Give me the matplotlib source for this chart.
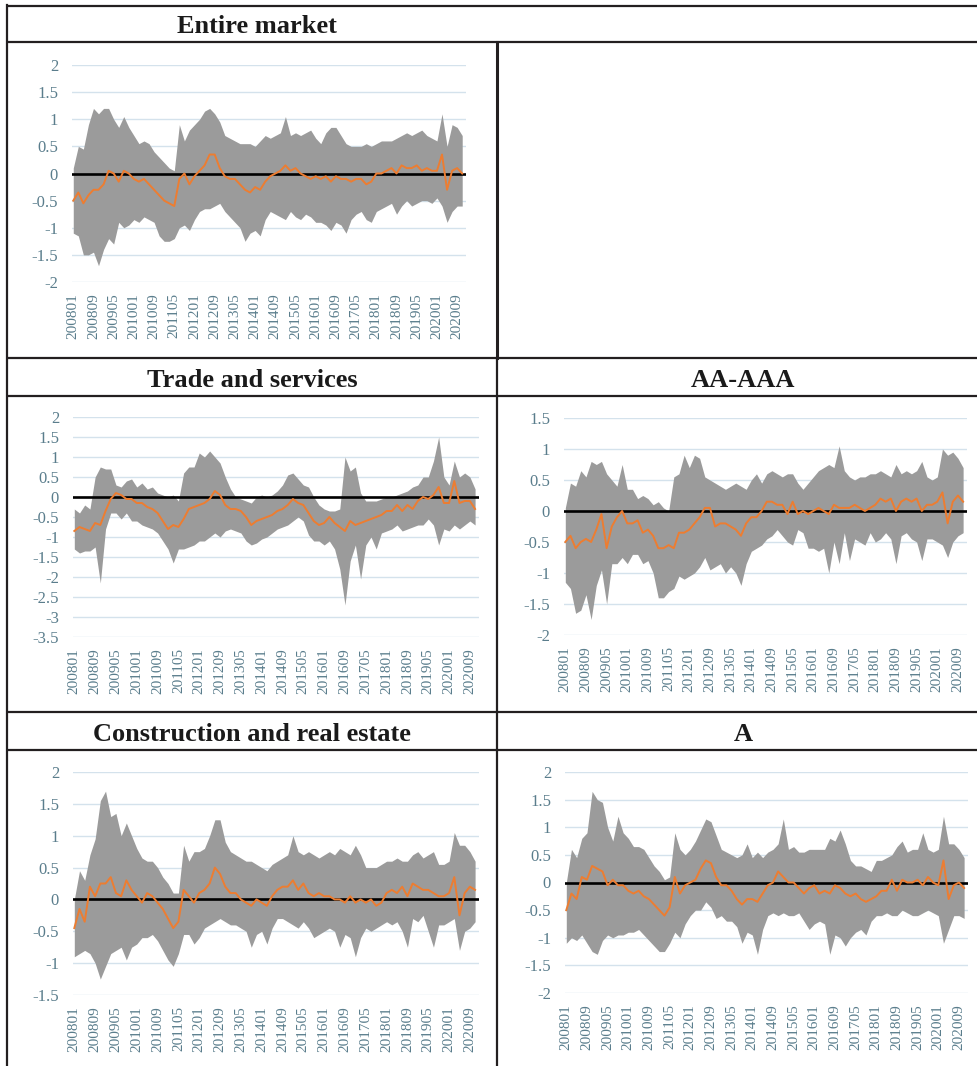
import matplotlib

matplotlib.use("Agg")
import matplotlib.pyplot as plt
import numpy as np
from matplotlib.ticker import FuncFormatter, MultipleLocator

plt.rcParams["font.family"] = ["Liberation Serif", "DejaVu Serif"]
plt.rcParams["axes.unicode_minus"] = False

W, H = 977, 1066

# one observation every second month, starting 200801
months = np.arange(0, 156, 2)

tick_labels = [
    "200801", "200809", "200905", "201001", "201009", "201105", "201201",
    "201209", "201305", "201401", "201409", "201505", "201601", "201609",
    "201705", "201801", "201809", "201905", "202001", "202009",
]

entire_upper = [
    0.1, 0.5, 0.45, 0.9, 1.2, 1.1, 1.2, 1.2, 1.0, 0.85,
    1.05, 0.85, 0.7, 0.55, 0.6, 0.55, 0.4, 0.3, 0.2, 0.1,
    0.05, 0.9, 0.6, 0.8, 0.9, 1.0, 1.15, 1.2, 1.1, 0.95,
    0.7, 0.65, 0.6, 0.55, 0.55, 0.55, 0.5, 0.6, 0.7, 0.65,
    0.7, 0.75, 1.05, 0.7, 0.75, 0.7, 0.75, 0.8, 0.65, 0.55,
    0.75, 0.85, 0.85, 0.7, 0.55, 0.5, 0.5, 0.5, 0.55, 0.5,
    0.55, 0.6, 0.6, 0.6, 0.65, 0.7, 0.75, 0.7, 0.75, 0.8,
    0.7, 0.65, 0.6, 1.1, 0.5, 0.9, 0.85, 0.7,
]
entire_lower = [
    -1.1, -1.15, -1.5, -1.5, -1.45, -1.7, -1.4, -1.2, -1.3, -0.9,
    -1.0, -0.95, -0.85, -0.9, -0.8, -0.85, -0.9, -1.15, -1.25, -1.25,
    -1.2, -1.0, -0.95, -1.05, -0.85, -0.7, -0.65, -0.65, -0.6, -0.55,
    -0.7, -0.8, -0.9, -1.0, -1.25, -1.1, -1.05, -1.15, -0.85, -0.7,
    -0.75, -0.8, -0.85, -0.7, -0.8, -0.85, -0.75, -0.8, -0.9, -0.9,
    -0.95, -1.05, -0.9, -0.95, -1.1, -0.85, -0.75, -0.7, -0.85, -0.9,
    -0.7, -0.65, -0.6, -0.55, -0.75, -0.6, -0.5, -0.6, -0.55, -0.5,
    -0.5, -0.55, -0.45, -0.6, -0.9, -0.7, -0.6, -0.6,
]
entire_mid = [
    -0.5, -0.35, -0.55, -0.4, -0.3, -0.3, -0.2, 0.05, 0.0, -0.15,
    0.05, 0.0, -0.1, -0.15, -0.1, -0.2, -0.3, -0.4, -0.5, -0.55,
    -0.6, -0.1, 0.0, -0.2, -0.05, 0.05, 0.15, 0.35, 0.35, 0.1,
    -0.05, -0.1, -0.1, -0.2, -0.3, -0.35, -0.25, -0.3, -0.15, -0.05,
    0.0, 0.05, 0.15, 0.05, 0.1, 0.0, -0.05, -0.1, -0.05, -0.1,
    -0.05, -0.15, -0.05, -0.1, -0.1, -0.15, -0.1, -0.1, -0.2, -0.15,
    0.0, 0.0, 0.05, 0.1, 0.0, 0.15, 0.1, 0.1, 0.15, 0.05,
    0.1, 0.05, 0.05, 0.35, -0.3, 0.05, 0.1, 0.0,
]

trade_upper = [
    -0.3, -0.4, -0.2, -0.3, 0.5, 0.75, 0.7, 0.7, 0.3, 0.25,
    0.4, 0.45, 0.25, 0.35, 0.2, 0.25, 0.1, 0.05, 0.0, 0.05,
    -0.1, 0.6, 0.75, 0.75, 1.1, 1.0, 1.15, 1.0, 0.85, 0.5,
    0.2, 0.0, -0.05, -0.1, -0.15, 0.0, 0.05, 0.0, 0.05, 0.15,
    0.3, 0.55, 0.6, 0.45, 0.3, 0.25, 0.0, -0.2, -0.3, -0.35,
    -0.35, -0.3, 1.0, 0.65, 0.75, 0.1, -0.1, -0.1, -0.1, -0.05,
    0.0, 0.0, 0.05, 0.1, 0.15, 0.25, 0.3, 0.5, 0.5, 0.9,
    1.5, 0.5, 0.3, 0.9, 0.5, 0.6, 0.5, 0.2,
]
trade_lower = [
    -1.3, -1.4, -1.35, -1.35, -1.25, -2.15, -0.8, -0.4, -0.4, -0.55,
    -0.4, -0.6, -0.6, -0.7, -0.75, -0.8, -0.9, -1.1, -1.3, -1.65,
    -1.3, -1.3, -1.25, -1.2, -1.1, -1.1, -1.0, -0.9, -1.0, -0.85,
    -0.8, -0.85, -0.9, -1.1, -1.2, -1.15, -1.05, -1.0, -0.9, -0.8,
    -0.75, -0.7, -0.6, -0.5, -0.6, -0.95, -1.1, -1.1, -1.2, -1.1,
    -1.3, -1.8, -2.7, -1.6, -1.2, -2.05, -1.2, -1.0, -1.3, -0.9,
    -0.85, -0.8, -0.7, -0.85, -0.8, -0.75, -0.7, -0.7, -0.55, -0.7,
    -1.2, -0.8, -0.85, -0.7, -0.8, -0.7, -0.6, -0.7,
]
trade_mid = [
    -0.85, -0.75, -0.8, -0.85, -0.65, -0.7, -0.35, -0.05, 0.1, 0.05,
    -0.05, -0.05, -0.15, -0.15, -0.25, -0.3, -0.4, -0.6, -0.8, -0.7,
    -0.75, -0.55, -0.3, -0.25, -0.2, -0.15, -0.05, 0.15, 0.05, -0.2,
    -0.3, -0.3, -0.35, -0.5, -0.7, -0.6, -0.55, -0.5, -0.45, -0.35,
    -0.3, -0.2, -0.05, -0.15, -0.2, -0.4, -0.6, -0.7, -0.65, -0.5,
    -0.65, -0.75, -0.85, -0.6, -0.7, -0.65, -0.6, -0.55, -0.5, -0.45,
    -0.35, -0.35, -0.2, -0.35, -0.2, -0.3, -0.1, 0.0, -0.05, 0.05,
    0.25, -0.15, -0.15, 0.4, -0.15, -0.1, -0.1, -0.3,
]

aa_upper = [
    0.05, 0.45, 0.4, 0.65, 0.55, 0.8, 0.75, 0.8, 0.6, 0.5,
    0.4, 0.75, 0.35, 0.35, 0.2, 0.25, 0.2, 0.1, 0.15, 0.05,
    0.0, 0.55, 0.6, 0.9, 0.7, 0.9, 0.85, 0.55, 0.5, 0.45,
    0.4, 0.35, 0.4, 0.45, 0.4, 0.35, 0.5, 0.6, 0.45, 0.6,
    0.65, 0.6, 0.55, 0.6, 0.6, 0.45, 0.35, 0.45, 0.55, 0.65,
    0.7, 0.75, 0.7, 1.05, 0.65, 0.55, 0.5, 0.55, 0.55, 0.6,
    0.6, 0.65, 0.6, 0.55, 0.75, 0.6, 0.65, 0.6, 0.65, 0.8,
    0.55, 0.5, 0.55, 1.0, 0.9, 0.95, 0.85, 0.7,
]
aa_lower = [
    -1.15, -1.25, -1.65, -1.6, -1.35, -1.75, -1.2, -0.95, -1.5, -0.85,
    -0.85, -0.75, -0.85, -0.7, -0.7, -0.85, -0.8, -1.0, -1.4, -1.4,
    -1.3, -1.25, -1.05, -1.1, -1.05, -1.0, -0.9, -0.75, -0.95, -0.9,
    -0.85, -1.0, -0.9, -1.0, -1.2, -0.85, -0.65, -0.6, -0.55, -0.45,
    -0.4, -0.3, -0.4, -0.5, -0.55, -0.3, -0.35, -0.6, -0.6, -0.65,
    -0.6, -1.0, -0.5, -0.85, -0.35, -0.8, -0.45, -0.5, -0.55, -0.35,
    -0.5, -0.45, -0.35, -0.45, -0.85, -0.4, -0.35, -0.45, -0.5, -0.8,
    -0.45, -0.45, -0.5, -0.55, -0.75, -0.5, -0.4, -0.35,
]
aa_mid = [
    -0.5, -0.4, -0.6, -0.5, -0.45, -0.5, -0.3, -0.05, -0.6, -0.25,
    -0.1, 0.0, -0.2, -0.2, -0.15, -0.35, -0.3, -0.4, -0.6, -0.6,
    -0.55, -0.6, -0.35, -0.35, -0.3, -0.2, -0.1, 0.05, 0.05, -0.25,
    -0.2, -0.2, -0.25, -0.3, -0.4, -0.2, -0.1, -0.1, 0.0, 0.15,
    0.15, 0.1, 0.1, -0.05, 0.15, -0.05, 0.0, -0.05, 0.0, 0.05,
    0.0, -0.05, 0.1, 0.05, 0.05, 0.05, 0.1, 0.05, 0.0, 0.05,
    0.1, 0.2, 0.15, 0.2, 0.0, 0.15, 0.2, 0.15, 0.2, 0.0,
    0.1, 0.1, 0.15, 0.3, -0.2, 0.15, 0.25, 0.15,
]

construction_upper = [
    0.0, 0.45, 0.3, 0.7, 0.95, 1.55, 1.7, 1.3, 1.35, 1.0,
    1.2, 1.0, 0.8, 0.65, 0.6, 0.6, 0.5, 0.35, 0.25, 0.1,
    0.1, 0.85, 0.6, 0.75, 0.75, 0.8, 1.0, 1.25, 1.25, 0.9,
    0.75, 0.7, 0.65, 0.6, 0.6, 0.55, 0.5, 0.45, 0.55, 0.6,
    0.65, 0.7, 1.0, 0.75, 0.7, 0.75, 0.7, 0.65, 0.7, 0.75,
    0.7, 0.8, 0.75, 0.7, 0.85, 0.7, 0.5, 0.5, 0.5, 0.55,
    0.6, 0.6, 0.65, 0.6, 0.6, 0.7, 0.75, 0.65, 0.7, 0.75,
    0.55, 0.55, 0.6, 1.05, 0.85, 0.85, 0.75, 0.6,
]
construction_lower = [
    -0.9, -0.85, -0.8, -0.85, -1.0, -1.25, -1.05, -0.85, -0.8, -0.75,
    -0.95, -0.75, -0.7, -0.6, -0.6, -0.55, -0.65, -0.8, -0.95, -1.05,
    -0.85, -0.55, -0.55, -0.7, -0.6, -0.45, -0.4, -0.35, -0.3, -0.35,
    -0.4, -0.4, -0.45, -0.5, -0.75, -0.55, -0.5, -0.7, -0.45, -0.3,
    -0.3, -0.35, -0.4, -0.45, -0.35, -0.45, -0.6, -0.55, -0.5, -0.45,
    -0.5, -0.75, -0.55, -0.6, -0.9, -0.6, -0.45, -0.5, -0.45, -0.4,
    -0.35, -0.4, -0.35, -0.5, -0.75, -0.3, -0.35, -0.25, -0.5, -0.75,
    -0.4, -0.4, -0.35, -0.3, -0.8, -0.5, -0.45, -0.35,
]
construction_mid = [
    -0.45, -0.15, -0.35, 0.2, 0.05, 0.25, 0.25, 0.35, 0.1, 0.05,
    0.3, 0.15, 0.05, -0.05, 0.1, 0.05, -0.05, -0.15, -0.3, -0.45,
    -0.35, 0.15, 0.05, -0.05, 0.1, 0.15, 0.25, 0.5, 0.4, 0.2,
    0.1, 0.1, 0.0, -0.05, -0.1, 0.0, -0.05, -0.1, 0.05, 0.15,
    0.2, 0.2, 0.3, 0.15, 0.25, 0.1, 0.05, 0.1, 0.05, 0.05,
    0.0, 0.0, -0.05, 0.05, -0.05, 0.0, -0.05, 0.0, -0.1, -0.05,
    0.1, 0.15, 0.1, 0.2, 0.05, 0.25, 0.2, 0.15, 0.15, 0.1,
    0.05, 0.05, 0.1, 0.35, -0.25, 0.1, 0.2, 0.15,
]

a_upper = [
    0.0, 0.6, 0.45, 0.8, 0.9, 1.65, 1.5, 1.45, 1.0, 0.75,
    1.2, 0.9, 0.8, 0.65, 0.65, 0.6, 0.45, 0.3, 0.2, 0.05,
    0.1, 0.9, 0.6, 0.5, 0.6, 0.75, 0.95, 1.15, 1.1, 0.85,
    0.6, 0.55, 0.5, 0.45, 0.5, 0.7, 0.45, 0.55, 0.45, 0.55,
    0.6, 0.7, 1.15, 0.6, 0.65, 0.55, 0.55, 0.6, 0.6, 0.6,
    0.6, 0.8, 0.75, 0.95, 0.7, 0.4, 0.3, 0.3, 0.25, 0.2,
    0.4, 0.4, 0.45, 0.5, 0.65, 0.75, 0.55, 0.6, 0.6, 0.9,
    0.6, 0.55, 0.6, 1.2, 0.7, 0.7, 0.6, 0.45,
]
a_lower = [
    -1.1, -1.0, -1.05, -0.95, -1.1, -1.25, -1.3, -1.05, -0.95, -1.0,
    -0.95, -0.95, -0.9, -0.9, -0.85, -0.95, -1.05, -1.15, -1.25, -1.25,
    -1.1, -0.9, -1.0, -0.75, -0.6, -0.5, -0.5, -0.35, -0.45, -0.65,
    -0.6, -0.7, -0.7, -0.8, -1.1, -0.9, -0.95, -1.3, -0.85, -0.6,
    -0.55, -0.6, -0.55, -0.6, -0.6, -0.55, -0.7, -0.85, -0.75, -0.7,
    -0.75, -1.3, -0.95, -1.0, -1.15, -1.0, -0.9, -0.85, -0.95, -0.7,
    -0.6, -0.6, -0.55, -0.6, -0.6, -0.5, -0.55, -0.6, -0.6, -0.55,
    -0.5, -0.55, -0.6, -1.1, -0.85, -0.6, -0.6, -0.65,
]
a_mid = [
    -0.5, -0.2, -0.3, 0.1, 0.05, 0.3, 0.25, 0.2, -0.05, 0.05,
    -0.05, -0.05, -0.15, -0.2, -0.15, -0.25, -0.3, -0.4, -0.5, -0.6,
    -0.45, 0.1, -0.2, -0.05, 0.0, 0.05, 0.25, 0.4, 0.35, 0.1,
    -0.05, -0.05, -0.15, -0.3, -0.4, -0.3, -0.3, -0.35, -0.2, -0.05,
    0.0, 0.2, 0.1, 0.0, 0.0, -0.1, -0.2, -0.1, -0.05, -0.2,
    -0.15, -0.2, -0.05, -0.1, -0.2, -0.25, -0.2, -0.3, -0.35, -0.3,
    -0.25, -0.15, -0.15, 0.05, -0.15, 0.05, 0.0, 0.0, 0.05, -0.05,
    0.1, 0.0, -0.05, 0.4, -0.3, -0.05, 0.0, -0.1,
]

BAND_GREY = "#9b9b9b"
ORANGE = "#ed7d31"
GRID = "#d4e2ec"
TICK_TEXT = "#5a7d8c"
RULE = "#231f20"


def px_rect(left, top, right, bottom):
    """Axes rectangle in figure fractions from pixel edges (origin top-left)."""
    return [left / W, 1 - bottom / H, (right - left) / W, (bottom - top) / H]


def month_index(label):
    return (int(label[:4]) - 2008) * 12 + int(label[4:]) - 1


def draw_panel(fig, rect, lower, upper, mid, ylim):
    ax = fig.add_axes(rect)
    ax.set_facecolor("none")
    ax.fill_between(months, lower, upper, color=BAND_GREY, linewidth=0, zorder=2)
    ax.axhline(0, color="black", linewidth=1.9, zorder=3)
    ax.plot(months, mid, color=ORANGE, linewidth=1.4, zorder=4)

    ax.set_xlim(-0.5, 155.5)
    ax.set_ylim(*ylim)
    ax.yaxis.set_major_locator(MultipleLocator(0.5))
    ax.yaxis.set_major_formatter(FuncFormatter(lambda v, _: f"{round(v, 2) + 0.0:g}"))
    ax.set_xticks([month_index(t) for t in tick_labels])
    ax.set_xticklabels(tick_labels, rotation=90)

    ax.grid(axis="y", color=GRID, linewidth=1.0)
    ax.set_axisbelow(True)
    for spine in ax.spines.values():
        spine.set_visible(False)
    ax.tick_params(length=0, colors=TICK_TEXT)
    ax.tick_params(axis="y", labelsize=12, pad=10)
    ax.tick_params(axis="x", labelsize=11, pad=8)
    return ax


fig = plt.figure(figsize=(W / 100, H / 100), dpi=100)

# table rules and headers, drawn in pixel coordinates
frame = fig.add_axes([0, 0, 1, 1], zorder=-1)
frame.set_xlim(0, W)
frame.set_ylim(H, 0)
frame.axis("off")
for y in (6, 42, 358, 396, 712, 750):
    frame.plot([7, W], [y, y], color=RULE, linewidth=1.6, solid_capstyle="butt")
frame.plot([7, 7], [5, H], color=RULE, linewidth=1.6)
frame.plot([497, 497], [42, 358], color=RULE, linewidth=2.2)
frame.plot([497, 497], [358, H], color=RULE, linewidth=1.6)

headers = [
    ("Entire market", 257, 33),
    ("Trade and services", 252, 387),
    ("AA-AAA", 743, 387),
    ("Construction and real estate", 252, 741),
    ("A", 743, 741),
]
for text, x, y in headers:
    frame.text(x, y, text, ha="center", va="baseline", fontsize=19,
               fontweight="bold", color="#1a1a1a")

draw_panel(fig, px_rect(72, 65, 466, 282), entire_lower, entire_upper, entire_mid, (-2, 2))
draw_panel(fig, px_rect(73, 417, 479, 637), trade_lower, trade_upper, trade_mid, (-3.5, 2))
draw_panel(fig, px_rect(564, 418, 967, 635), aa_lower, aa_upper, aa_mid, (-2, 1.5))
draw_panel(fig, px_rect(73, 772, 479, 995), construction_lower, construction_upper,
           construction_mid, (-1.5, 2))
draw_panel(fig, px_rect(565, 772, 968, 993), a_lower, a_upper, a_mid, (-2, 2))

fig.savefig("out.png", dpi=100)
